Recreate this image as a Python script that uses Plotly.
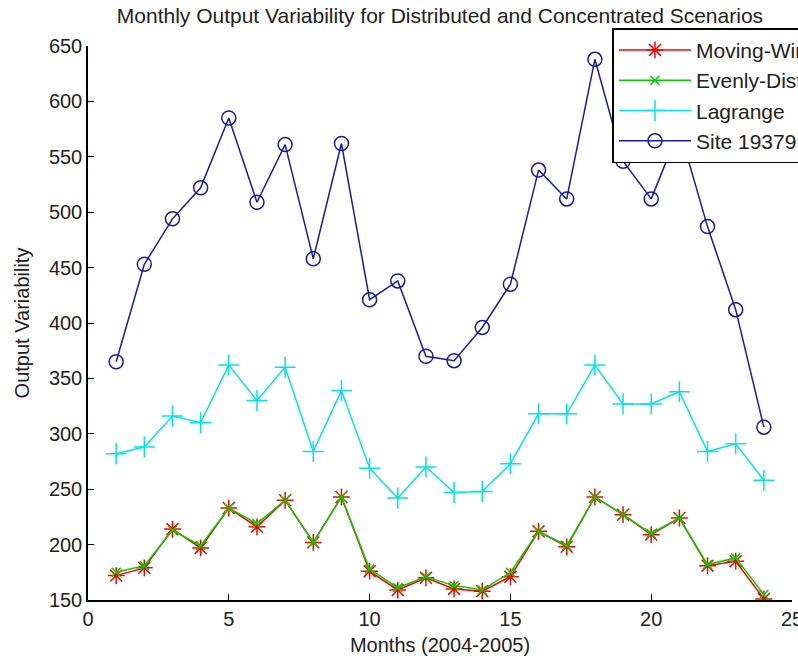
import plotly.graph_objects as go

months = list(range(1, 25))

moving_window = [172, 179, 214, 197, 233, 216, 240, 202, 243, 176, 159, 170,
                 160, 158, 171, 212, 198, 243, 227, 209, 224, 181, 185, 151]
evenly_distributed = [175, 181, 213, 199, 233, 219, 240, 202, 243, 178, 161, 171,
                      163, 159, 175, 212, 199, 243, 227, 210, 224, 182, 188, 155]
lagrange = [282, 288, 316, 310, 362, 330, 360, 284, 339, 269, 242, 270,
            247, 248, 273, 318, 318, 362, 327, 327, 338, 284, 291, 258]
site_19379 = [365, 453, 494, 522, 585, 509, 561, 458, 562, 421, 438, 370,
              366, 396, 435, 538, 512, 638, 546, 512, 575, 487, 412, 306]

names = ["Moving-Window", "Evenly-Distributed", "Lagrange", "Site 19379"]

FONT = "Liberation Sans, Arial, sans-serif"
TXT = "#222222"

fig = go.Figure()
fig.add_trace(go.Scatter(
    x=months, y=moving_window, name=names[0], mode="lines+markers",
    line=dict(color="#ff0000", width=1.5),
    marker=dict(symbol="asterisk-open", size=14, color="#ff0000",
                line=dict(color="#ff0000", width=1.5))))
fig.add_trace(go.Scatter(
    x=months, y=evenly_distributed, name=names[1], mode="lines+markers",
    line=dict(color="#00d000", width=1.5),
    marker=dict(symbol="x-thin-open", size=9, color="#00d000",
                line=dict(color="#00d000", width=1.5))))
fig.add_trace(go.Scatter(
    x=months, y=lagrange, name=names[2], mode="lines+markers",
    line=dict(color="#00e5e5", width=1.5),
    marker=dict(symbol="cross-thin-open", size=15, color="#00e5e5",
                line=dict(color="#00e5e5", width=1.5))))
fig.add_trace(go.Scatter(
    x=months, y=site_19379, name=names[3], mode="lines+markers",
    line=dict(color="#1a1aa8", width=1.5),
    marker=dict(symbol="circle-open", size=14, color="#1a1aa8",
                line=dict(color="#1a1aa8", width=1.5))))

fig.update_layout(
    width=798, height=662,
    paper_bgcolor="white", plot_bgcolor="white",
    margin=dict(l=88, r=6, t=46, b=62, autoexpand=False),
    font=dict(family=FONT, size=20, color=TXT),
    title=dict(text="Monthly Output Variability for Distributed and Concentrated Scenarios",
               x=0.5513, xanchor="center", y=0.977, yanchor="middle",
               yref="container", font=dict(family=FONT, size=21, color=TXT)),
    showlegend=True,
    legend=dict(x=0.745, xanchor="left", y=1.032, yanchor="top",
                bgcolor="white", bordercolor="black", borderwidth=1.5,
                font=dict(family=FONT, size=21, color=TXT),
                itemwidth=72, tracegroupgap=0),
    xaxis=dict(range=[0, 25], dtick=5, tick0=0, ticks="inside", ticklen=6,
               tickcolor="black", showline=True, linecolor="black", linewidth=1.5,
               showgrid=False, zeroline=False, mirror=False,
               ticklabeloverflow="allow",
               title=dict(text="Months (2004-2005)", standoff=9,
                          font=dict(family=FONT, size=20, color=TXT))),
    yaxis=dict(range=[150, 650], dtick=50, tick0=150, ticks="inside", ticklen=6,
               tickcolor="black", showline=True, linecolor="black", linewidth=1.5,
               showgrid=False, zeroline=False, mirror=False,
               ticklabeloverflow="allow",
               title=dict(text="Output Variability", standoff=14,
                          font=dict(family=FONT, size=20, color=TXT))),
)

fig.write_html("out.html")
